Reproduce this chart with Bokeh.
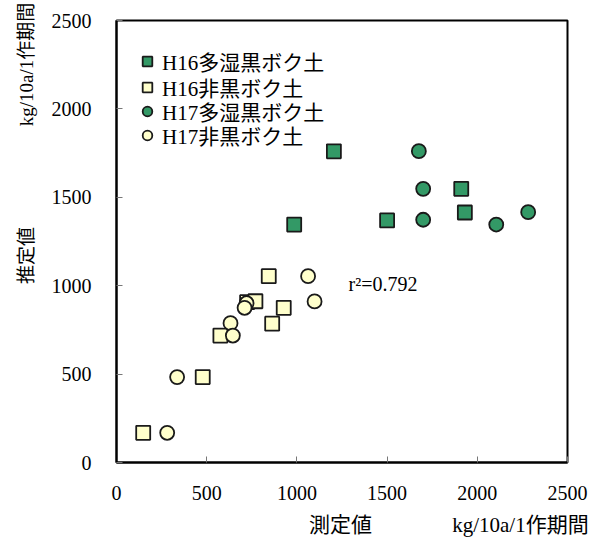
from bokeh.plotting import figure
from bokeh.models import Label, FixedTicker, LinearAxis, Legend, LegendItem
from bokeh.embed import file_html
from bokeh.resources import INLINE

# --- data ---
h16_wet_x = [1205, 985, 1500, 1911, 1931]
h16_wet_y = [1760, 1346, 1369, 1548, 1414]
h16_non_x = [844, 724, 770, 927, 863, 576, 478, 148]
h16_non_y = [1054, 907, 912, 875, 785, 718, 483, 168]
h17_wet_x = [1676, 1700, 1700, 2105, 2282]
h17_wet_y = [1761, 1548, 1373, 1346, 1416]
h17_non_x = [1062, 1098, 721, 710, 632, 645, 336, 281]
h17_non_y = [1054, 911, 901, 875, 788, 718, 483, 168]
series_names = ["H16多湿黒ボク土", "H16非黒ボク土", "H17多湿黒ボク土", "H17非黒ボク土"]
tick_values = [0, 500, 1000, 1500, 2000, 2500]
r2_text = "r²=0.792"
unit_text = "kg/10a/1作期間"
x_title = "測定値"
y_title = "推定値"
# where the axis titles sit along their axes (data units)
x_title_pos = [1242, 2239]
y_title_pos = [1171, 2251]

GREEN = "#339966"
PALE = "#FFFFCC"
EDGE = "#1a1a1a"
MIX_FONT = "Liberation Serif, Noto Sans CJK JP"
SERIF = "Liberation Serif"

p = figure(frame_width=451, frame_height=442,
           x_range=(0, 2500), y_range=(0, 2500),
           output_backend="svg", toolbar_location=None,
           min_border_left=116, min_border_right=28,
           min_border_top=20, min_border_bottom=40)

p.grid.visible = False
p.outline_line_color = "black"
p.outline_line_width = 2
p.background_fill_color = "white"
p.border_fill_color = "white"

for ax in (p.xaxis[0], p.yaxis[0]):
    ax.ticker = FixedTicker(ticks=tick_values)
    ax.axis_line_color = "black"
    ax.axis_line_width = 2
    ax.major_tick_in = 6
    ax.major_tick_out = 0
    ax.major_tick_line_color = "#777777"
    ax.major_tick_line_width = 1
    ax.minor_tick_line_color = None
    ax.major_label_text_font = SERIF
    ax.major_label_text_font_size = "20px"
    ax.major_label_text_color = "black"
p.xaxis.major_label_standoff = 23
p.yaxis.major_label_standoff = 25

# axis titles drawn as an outer, line-less axis
xt = LinearAxis(ticker=FixedTicker(ticks=x_title_pos),
                major_label_overrides={x_title_pos[0]: x_title, x_title_pos[1]: unit_text},
                axis_line_color=None, major_tick_line_color=None, minor_tick_line_color=None,
                major_tick_in=0, major_tick_out=0, major_label_standoff=10,
                major_label_text_font=MIX_FONT, major_label_text_font_size="21px",
                major_label_text_color="black")
p.add_layout(xt, "below")
yt = LinearAxis(ticker=FixedTicker(ticks=y_title_pos),
                major_label_overrides={y_title_pos[0]: y_title, y_title_pos[1]: unit_text},
                major_label_orientation="parallel",
                axis_line_color=None, major_tick_line_color=None, minor_tick_line_color=None,
                major_tick_in=0, major_tick_out=0, major_label_standoff=11,
                major_label_text_font=MIX_FONT, major_label_text_font_size="19px",
                major_label_text_color="black")
p.add_layout(yt, "left")

ms = 14
r1 = p.scatter(h16_wet_x, h16_wet_y, marker="square", size=ms, fill_color=GREEN,
               line_color=EDGE, line_width=1.8)
r2 = p.scatter(h16_non_x, h16_non_y, marker="square", size=ms, fill_color=PALE,
               line_color=EDGE, line_width=1.8)
r3 = p.scatter(h17_wet_x, h17_wet_y, marker="circle", size=ms, fill_color=GREEN,
               line_color=EDGE, line_width=1.8)
r4 = p.scatter(h17_non_x, h17_non_y, marker="circle", size=ms, fill_color=PALE,
               line_color=EDGE, line_width=1.8)

# one legend per row so the row pitch matches the reference
legend_rows = [386, 360, 336, 312]
for name, rend, ly in zip(series_names, [r1, r2, r3, r4], legend_rows):
    lg = Legend(items=[LegendItem(label=name, renderers=[rend])],
                location=(19, ly), padding=0, margin=0, spacing=0,
                glyph_width=24, glyph_height=24, label_height=24, label_standoff=3,
                border_line_color=None, background_fill_alpha=0,
                label_text_font=MIX_FONT, label_text_font_size="21px",
                label_text_color="black")
    p.add_layout(lg, "center")

p.add_layout(Label(x=1286, y=1012, text=r2_text, text_font=SERIF,
                   text_font_size="20px", text_baseline="middle",
                   text_align="left", text_color="black"))

open("out.html", "w").write(file_html(p, INLINE))
